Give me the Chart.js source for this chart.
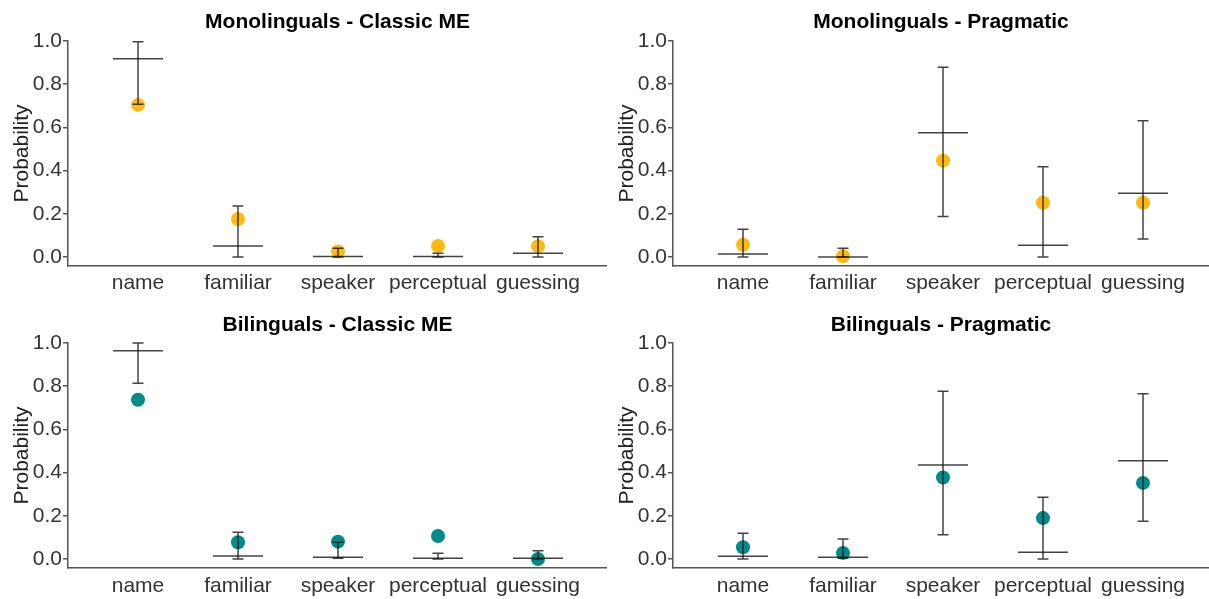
<!DOCTYPE html>
<html><head><meta charset="utf-8">
<script src="https://cdn.jsdelivr.net/npm/chart.js@4"></script>
<style>
html,body{margin:0;padding:0;background:#fff;width:1209px;height:599px;overflow:hidden;position:relative}
canvas{position:absolute}
</style></head><body>
<canvas id="c1" width="607" height="300" style="left:0;top:0"></canvas>
<canvas id="c2" width="604" height="300" style="left:605px;top:0"></canvas>
<canvas id="c3" width="607" height="297" style="left:0;top:302px"></canvas>
<canvas id="c4" width="604" height="297" style="left:605px;top:302px"></canvas>
<script>
const categories = ['name', 'familiar', 'speaker', 'perceptual', 'guessing'];
const yTickValues = [0, 0.2, 0.4, 0.6, 0.8, 1.0];

// Monolinguals - Classic ME
const monoClassicObserved = [0.704, 0.176, 0.025, 0.051, 0.050];
const monoClassicModel    = [0.918, 0.051, 0.002, 0.002, 0.017];
const monoClassicLower    = [0.707, 0.000, 0.000, 0.000, 0.000];
const monoClassicUpper    = [0.997, 0.236, 0.040, 0.017, 0.094];

// Monolinguals - Pragmatic
const monoPragObserved = [0.056, 0.003, 0.446, 0.251, 0.251];
const monoPragModel    = [0.014, 0.000, 0.575, 0.054, 0.295];
const monoPragLower    = [0.000, 0.000, 0.187, 0.000, 0.083];
const monoPragUpper    = [0.128, 0.040, 0.878, 0.418, 0.631];

// Bilinguals - Classic ME
const biClassicObserved = [0.737, 0.077, 0.080, 0.106, 0.000];
const biClassicModel    = [0.964, 0.014, 0.008, 0.003, 0.003];
const biClassicLower    = [0.814, 0.000, 0.003, 0.000, 0.000];
const biClassicUpper    = [1.000, 0.123, 0.077, 0.026, 0.038];

// Bilinguals - Pragmatic
const biPragObserved = [0.054, 0.028, 0.377, 0.189, 0.352];
const biPragModel    = [0.012, 0.008, 0.435, 0.031, 0.455];
const biPragLower    = [0.000, 0.003, 0.112, 0.000, 0.175];
const biPragUpper    = [0.119, 0.092, 0.777, 0.286, 0.765];

const FONT = "'Liberation Sans', Arial, Helvetica, sans-serif";
const ORANGE = '#FFB90F';
const TEAL = '#008B8B';
const LINE = 'rgba(20,20,20,0.8)';

const titlePlugin = {
  id: 'panelTitle',
  afterDraw(chart, args, opts) {
    const {ctx, chartArea} = chart;
    ctx.save();
    ctx.font = 'bold 21px ' + FONT;
    ctx.fillStyle = '#000';
    ctx.textAlign = 'center';
    ctx.textBaseline = 'alphabetic';
    ctx.fillText(opts.text, (chartArea.left + chartArea.right) / 2, opts.y);
    ctx.restore();
  }
};

function makePanel(id, title, titleY, color, observed, model, lower, upper, xMax, xAxisHeight, labelPad) {
  const errData = [];
  const modelData = [];
  categories.forEach((c, i) => {
    errData.push({x: i, y: lower[i]}, {x: i, y: upper[i]}, {x: i, y: null});
    errData.push({x: i - 0.055, y: lower[i]}, {x: i + 0.055, y: lower[i]}, {x: i, y: null});
    errData.push({x: i - 0.055, y: upper[i]}, {x: i + 0.055, y: upper[i]}, {x: i, y: null});
    modelData.push({x: i - 0.25, y: model[i]}, {x: i + 0.25, y: model[i]}, {x: i, y: null});
  });
  const pts = observed.map((v, i) => ({x: i, y: v}));
  new Chart(document.getElementById(id), {
    type: 'line',
    data: {
      datasets: [
        {data: errData, borderColor: LINE, borderWidth: 1.5, pointRadius: 0, spanGaps: false, tension: 0, order: 0, clip: false},
        {data: modelData, borderColor: LINE, borderWidth: 1.5, pointRadius: 0, spanGaps: false, tension: 0, order: 1, clip: false},
        {data: pts, showLine: false, pointRadius: 7, pointHoverRadius: 7, pointBackgroundColor: color, pointBorderColor: color, pointBorderWidth: 0, order: 2, clip: false}
      ]
    },
    options: {
      responsive: false,
      animation: false,
      devicePixelRatio: 1,
      layout: {autoPadding: false, padding: {top: 41, right: 0, bottom: 0, left: 0}},
      plugins: {
        legend: {display: false},
        tooltip: {enabled: false},
        panelTitle: {text: title, y: titleY}
      },
      scales: {
        x: {
          type: 'linear',
          min: -0.7,
          max: xMax,
          afterBuildTicks: s => { s.ticks = categories.map((c, i) => ({value: i})); },
          afterFit: s => { s.height = xAxisHeight; },
          ticks: {
            callback: v => categories[v],
            font: {size: 21, family: FONT},
            color: '#333',
            padding: labelPad,
            maxRotation: 0,
            autoSkip: false
          },
          grid: {display: false, drawTicks: false},
          border: {display: true, color: '#555', width: 1.5}
        },
        y: {
          type: 'linear',
          min: -0.042,
          max: 1.0,
          afterBuildTicks: s => { s.ticks = yTickValues.map(v => ({value: v})); },
          afterFit: s => { s.width = 68; },
          ticks: {
            callback: v => v.toFixed(1),
            font: {size: 21, family: FONT},
            color: '#333',
            padding: 1
          },
          grid: {display: true, drawOnChartArea: false, drawTicks: true, tickLength: 5, color: '#555', lineWidth: 1.5},
          border: {display: true, color: '#555', width: 1.5},
          title: {display: true, text: 'Probability', font: {size: 21, family: FONT}, color: '#222', padding: {top: 10, bottom: 0}}
        }
      }
    },
    plugins: [titlePlugin]
  });
}

makePanel('c1', 'Monolinguals - Classic ME', 27.5, ORANGE, monoClassicObserved, monoClassicModel, monoClassicLower, monoClassicUpper, 4.69, 34, 5);
makePanel('c2', 'Monolinguals - Pragmatic', 27.5, ORANGE, monoPragObserved, monoPragModel, monoPragLower, monoPragUpper, 4.66, 34, 5);
makePanel('c3', 'Bilinguals - Classic ME', 28.7, TEAL, biClassicObserved, biClassicModel, biClassicLower, biClassicUpper, 4.69, 31, 6);
makePanel('c4', 'Bilinguals - Pragmatic', 28.7, TEAL, biPragObserved, biPragModel, biPragLower, biPragUpper, 4.66, 31, 6);
</script>
</body></html>
